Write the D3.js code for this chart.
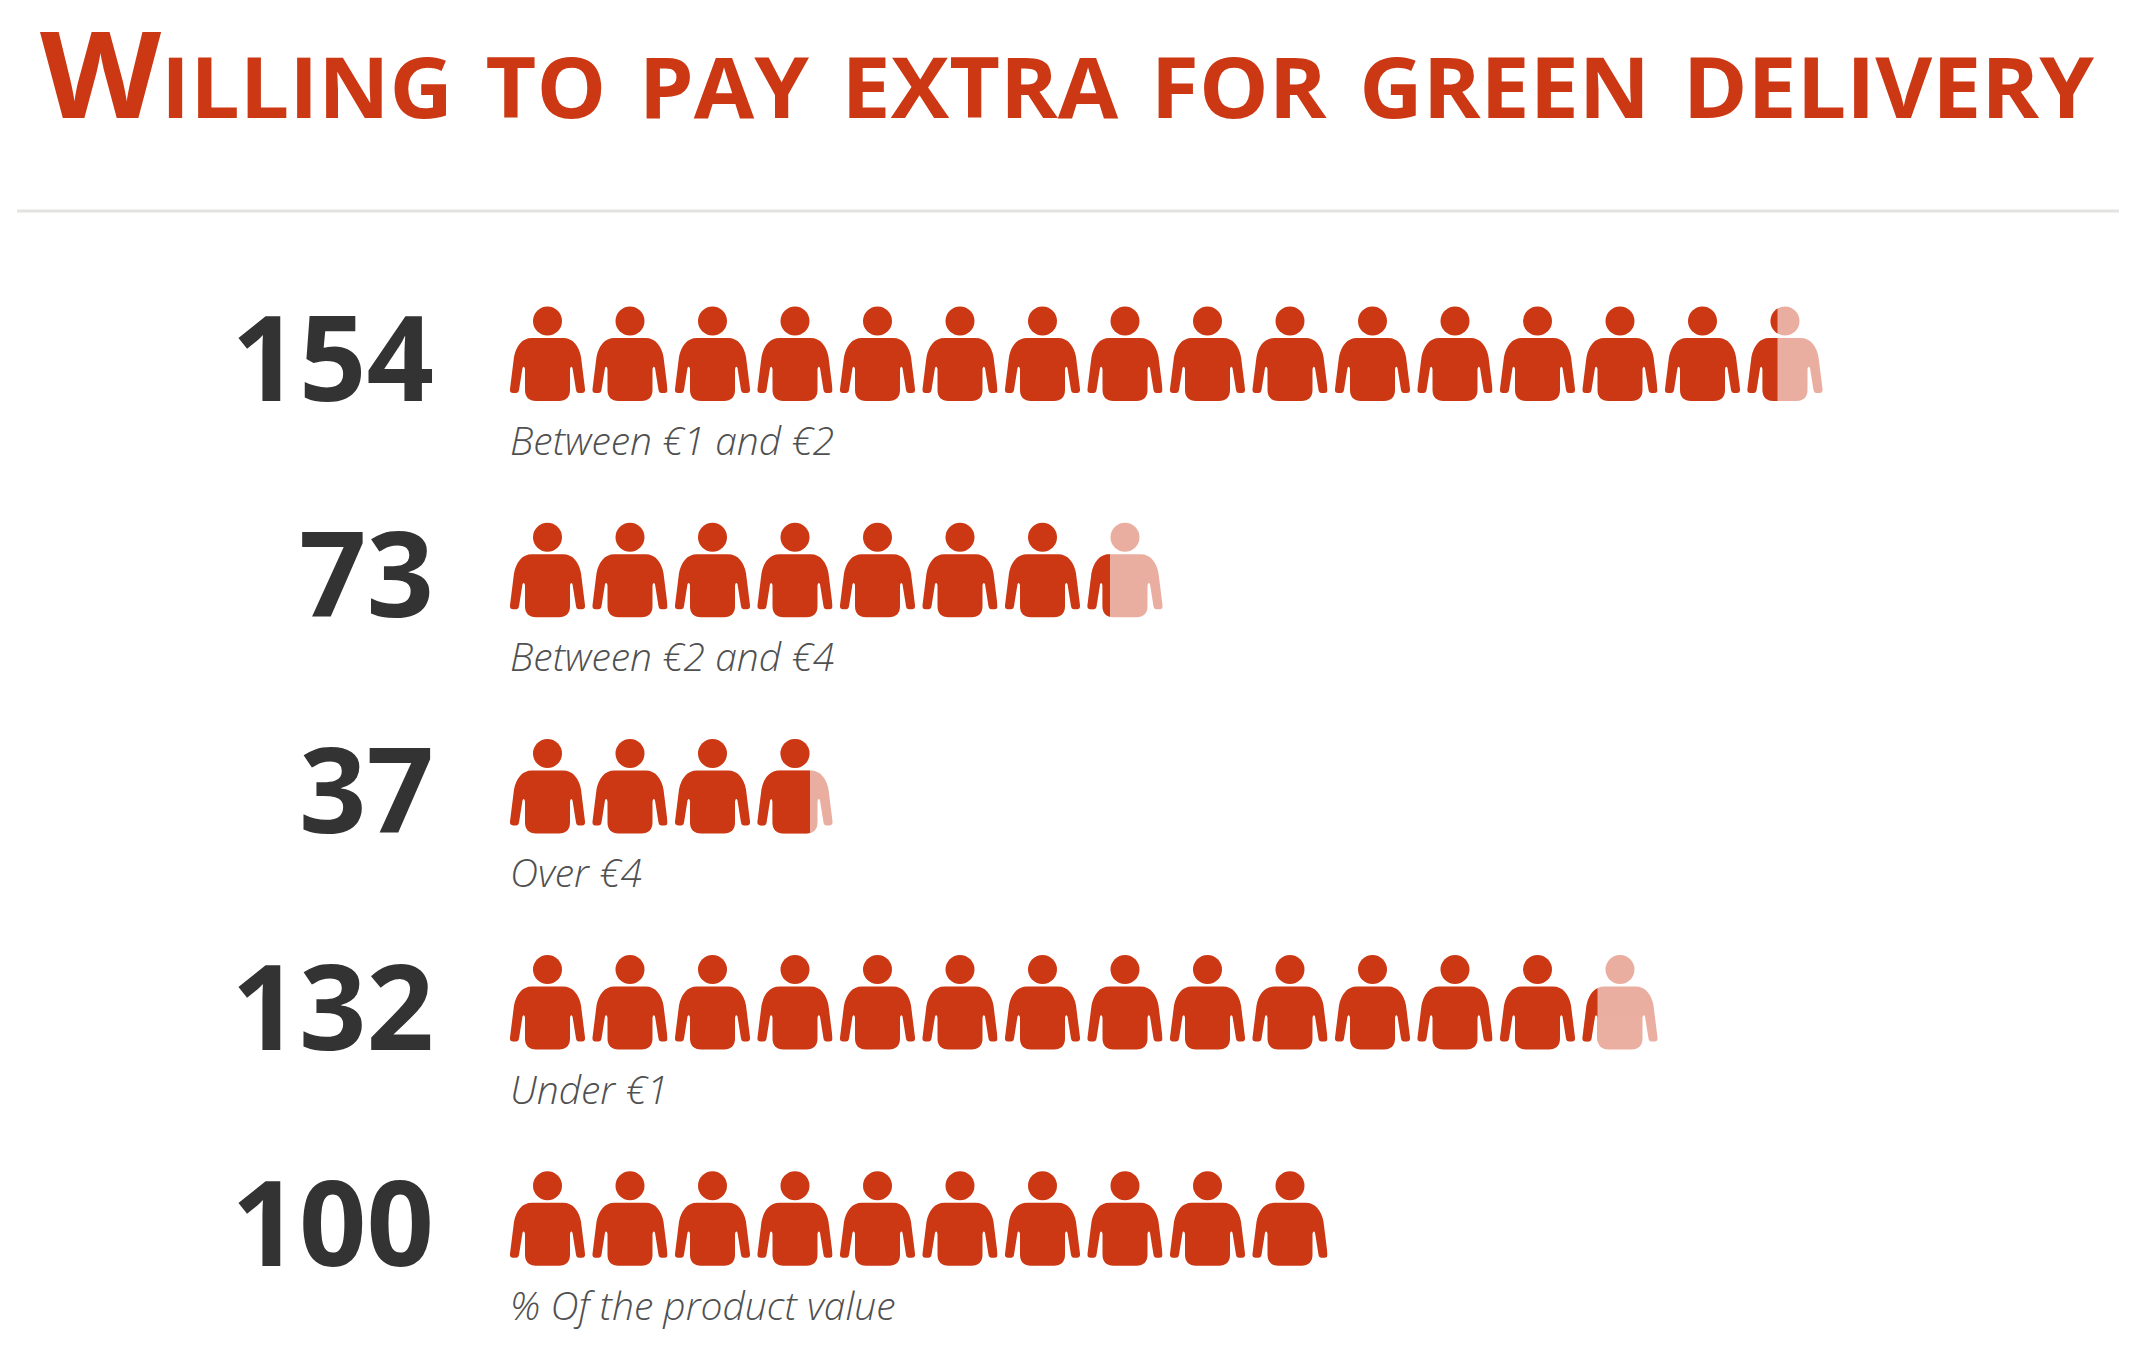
<!DOCTYPE html>
<html>
<head>
<meta charset="utf-8">
<script src="https://d3js.org/d3.v7.min.js"></script>
<style>
	body { margin: 0; background: #fff; }
	text { font-family: "Open Sans", sans-serif; }
</style>
</head>
<body>
<div id="my_dataviz"></div>
<script>
const title = "Willing to pay extra for green delivery";
const categories = ["Between €1 and €2", "Between €2 and €4", "Over €4", "Under €1", "% Of the product value"];
const values = [154, 73, 37, 132, 100];

const width = 2139, height = 1348;
const perIcon = 10;
const iconW = 75;
const red = "#cc3814";

// one person, drawn in a 75 x 96 box
const head = { cx: 37.5, cy: 16, r: 14.5 };
const bodyPath = "M22,33 L53,33 C63,33 69,41 71,52 L75,84 Q75.5,88 72,88 L69,88 Q66.5,88 66,85 L62.5,63 Q61,60 60,64 " +
	"L60,85 C60,92 56,96 49,96 L26,96 C19,96 15,92 15,85 L15,64 Q14,60 12.5,63 L9,85 Q8.5,88 6,88 L3,88 Q-0.5,88 0,84 L4,52 C6,41 12,33 22,33 Z";

const svg = d3.select("#my_dataviz")
	.append("svg")
	.attr("width", width)
	.attr("height", height);

svg.append("text")
	.attr("x", 40)
	.attr("y", 118)
	.attr("font-size", 120)
	.attr("font-weight", 700)
	.style("font-variant", "small-caps")
	.attr("textLength", 2054)
	.attr("lengthAdjust", "spacingAndGlyphs")
	.attr("fill", red)
	.text(title);

svg.append("line")
	.attr("x1", 17)
	.attr("x2", 2119)
	.attr("y1", 211)
	.attr("y2", 211)
	.attr("stroke", "#e3e3e1")
	.attr("stroke-width", 3);

const x = d3.scaleLinear()
	.domain([0, 16])
	.range([510, 510 + 16 * 82.5]);

const y = d3.scalePoint()
	.domain(categories)
	.range([305, 305 + 4 * 216.2]);

const rows = categories.map((c, i) => ({ category: c, value: values[i] }));

const defs = svg.append("defs");

const row = svg.selectAll("g.row")
	.data(rows)
	.enter()
	.append("g")
	.attr("class", "row")
	.attr("transform", d => `translate(0, ${y(d.category)})`);

row.append("text")
	.attr("x", 434)
	.attr("y", 96)
	.attr("text-anchor", "end")
	.attr("font-size", 118)
	.attr("font-weight", 700)
	.attr("fill", "#333333")
	.text(d => d.value);

row.append("text")
	.attr("x", 510)
	.attr("y", 150)
	.attr("font-size", 39)
	.attr("font-weight", 300)
	.attr("font-style", "italic")
	.attr("fill", "#505050")
	.text(d => d.category);

// every icon is a faded person with the filled share clipped on top
row.each(function (d, r) {
	const icons = d3.range(Math.ceil(d.value / perIcon)).map(i => ({
		i: i,
		share: Math.min(1, d.value / perIcon - i)
	}));
	const icon = d3.select(this).selectAll("g.icon")
		.data(icons)
		.enter()
		.append("g")
		.attr("class", "icon")
		.attr("transform", e => `translate(${x(e.i)}, 0)`);

	icon.each(function (e) {
		defs.append("clipPath")
			.attr("id", `clip-${r}-${e.i}`)
			.append("rect")
			.attr("x", -1)
			.attr("y", 0)
			.attr("width", iconW * e.share + 1)
			.attr("height", 97);
		const person = (g) => {
			g.append("circle").attr("cx", head.cx).attr("cy", head.cy).attr("r", head.r);
			g.append("path").attr("d", bodyPath);
		};
		const el = d3.select(this);
		if (e.share < 1) {
			el.append("g").attr("fill", red).attr("opacity", 0.4).call(person);
		}
		el.append("g").attr("fill", red).attr("clip-path", `url(#clip-${r}-${e.i})`).call(person);
	});
});
</script>
</body>
</html>
